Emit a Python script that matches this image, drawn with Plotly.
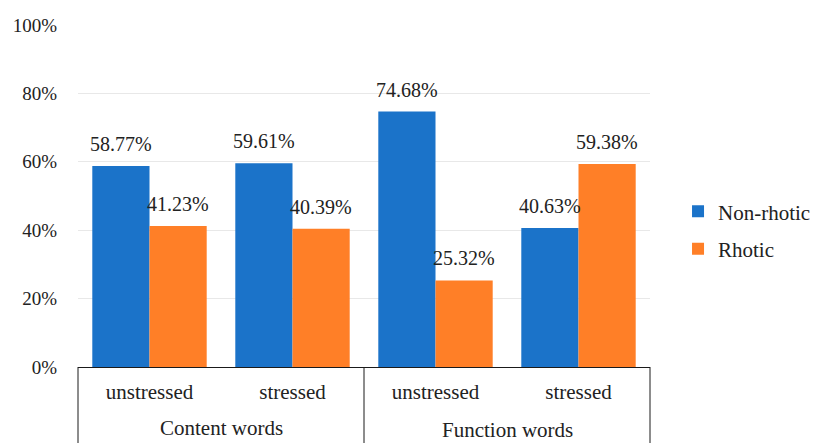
import plotly.graph_objects as go

groups = ["Content words", "Content words", "Function words", "Function words"]
stress = ["unstressed", "stressed", "unstressed", "stressed"]
non_rhotic = [58.77, 59.61, 74.68, 40.63]
rhotic = [41.23, 40.39, 25.32, 59.38]
y_ticks = [0, 20, 40, 60, 80, 100]

FONT = "Liberation Serif, Times New Roman, serif"
TXT = "#222222"
BARGAP = 0.2
idx = list(range(len(stress)))

fig = go.Figure()
series = [("Non-rhotic", non_rhotic, "#1B73C9"), ("Rhotic", rhotic, "#FF7F27")]
for k, (name, vals, col) in enumerate(series):
    fig.add_trace(go.Bar(
        x=idx, y=vals, name=name,
        marker=dict(color=col, line=dict(width=0)),
        legendgroup=name, hoverinfo="y",
    ))
    # value labels above each bar
    w = (1 - BARGAP) / len(series)
    off = -(1 - BARGAP) / 2 + w * (k + 0.5)
    for i, v in zip(idx, vals):
        fig.add_annotation(
            x=i + off, y=v, xref="x", yref="y", text=f"{v:.2f}%",
            showarrow=False, yanchor="bottom", yshift=9,
            font=dict(family=FONT, size=20, color=TXT),
        )

# group labels (second category level)
uniq = list(dict.fromkeys(groups))
gshift = {uniq[0]: -61, uniq[1]: -63}
for g in uniq:
    pos = [i for i, gg in zip(idx, groups) if gg == g]
    fig.add_annotation(
        x=sum(pos) / len(pos), y=0, xref="x", yref="paper", text=g,
        showarrow=False, yanchor="middle", yshift=gshift[g],
        font=dict(family=FONT, size=21, color=TXT),
    )

# category box dividers
for xp in [0, 0.5, 1]:
    fig.add_shape(type="line", xref="paper", yref="paper", x0=xp, x1=xp,
                  y0=0, y1=-0.3, line=dict(color="#1a1a1a", width=1))

fig.update_layout(
    width=813, height=443,
    margin=dict(l=78, r=163, t=25, b=76, autoexpand=False),
    paper_bgcolor="white", plot_bgcolor="white",
    barmode="group", bargap=BARGAP, bargroupgap=0,
    font=dict(family=FONT, size=19, color=TXT),
    showlegend=True,
    legend=dict(x=1.049, xanchor="left", y=0.40, yanchor="middle",
                font=dict(family=FONT, size=21, color=TXT),
                tracegroupgap=7, bgcolor="rgba(0,0,0,0)"),
)
fig.update_yaxes(
    range=[0, 100], tickvals=y_ticks, ticktext=[f"{v}%" for v in y_ticks],
    showgrid=True, gridcolor="#E8E8E8", gridwidth=1,
    zeroline=False, showline=False, ticks="",
    ticklabelstandoff=20,
    tickfont=dict(family=FONT, size=19, color=TXT),
)
fig.update_xaxes(
    range=[-0.5, len(stress) - 0.5], tickvals=idx, ticktext=stress,
    showline=True, linecolor="#1a1a1a", linewidth=1, showgrid=False,
    zeroline=False, ticks="", ticklabelstandoff=6,
    tickfont=dict(family=FONT, size=21, color=TXT),
)

fig.write_html("out.html")
